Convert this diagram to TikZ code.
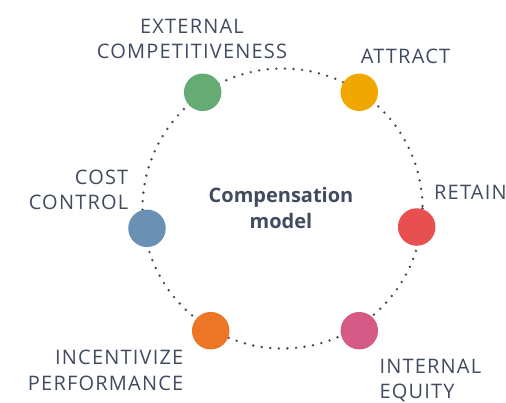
\documentclass[tikz,border=0pt]{standalone}
\usepackage{fontspec}
\setmainfont{Open Sans}
\newfontfamily\lblfont[LetterSpace=6]{Open Sans}
\definecolor{ink}{HTML}{414B5F}
\definecolor{cgreen}{HTML}{66AB74}
\definecolor{cyellow}{HTML}{F0A800}
\definecolor{cred}{HTML}{E84F50}
\definecolor{cpink}{HTML}{D55A85}
\definecolor{corange}{HTML}{EC7625}
\definecolor{cblue}{HTML}{6A91B3}
\tikzset{
  dot/.style={circle,fill=#1,minimum size=37.5pt,inner sep=0pt},
  lbl/.style={text=ink,inner sep=0pt,font=\lblfont\fontsize{20}{25.5}\selectfont},
  ring/.style={ink,line width=2.7pt,line cap=round,dash pattern=on 0pt off 8.6pt}
}
\begin{document}
\begin{tikzpicture}[x=1pt,y=-1pt]
\useasboundingbox (0,0) rectangle (506,402);
\coordinate (c) at (282.5,208.5);
\draw[ring] (c) circle (140);
\node[dot=cgreen]  (ext)  at (202.7,92.3) {};
\node[dot=cyellow] (att)  at (359.3,92.3) {};
\node[dot=cred]    (ret)  at (416.7,227.0) {};
\node[dot=cpink]   (int)  at (359.3,330.7) {};
\node[dot=corange] (inc)  at (210.7,330.7) {};
\node[dot=cblue]   (cost) at (147.0,228.3) {};
\node[lbl,align=center,anchor=south] (extl) at (192,59) {EXTERNAL\\COMPETITIVENESS};
\node[lbl,anchor=base] (attl) at (405.5,63.3) {ATTRACT};
\node[lbl,anchor=base west] (retl) at (434,199.3) {RETAIN};
\node[lbl,align=right,anchor=south east] (costl) at (128.5,210) {COST\\CONTROL};
\node[lbl,align=right,anchor=south east] (incl) at (183.5,390.7) {INCENTIVIZE\\PERFORMANCE};
\node[lbl,align=left,anchor=north west] (intl) at (379.3,358.5) {INTERNAL\\EQUITY};
\node[text=ink,inner sep=0pt,align=center,anchor=south,font=\bfseries\fontsize{20}{25.5}\selectfont] (title) at (281,228.7) {Compensation\\model};
\end{tikzpicture}
\end{document}
